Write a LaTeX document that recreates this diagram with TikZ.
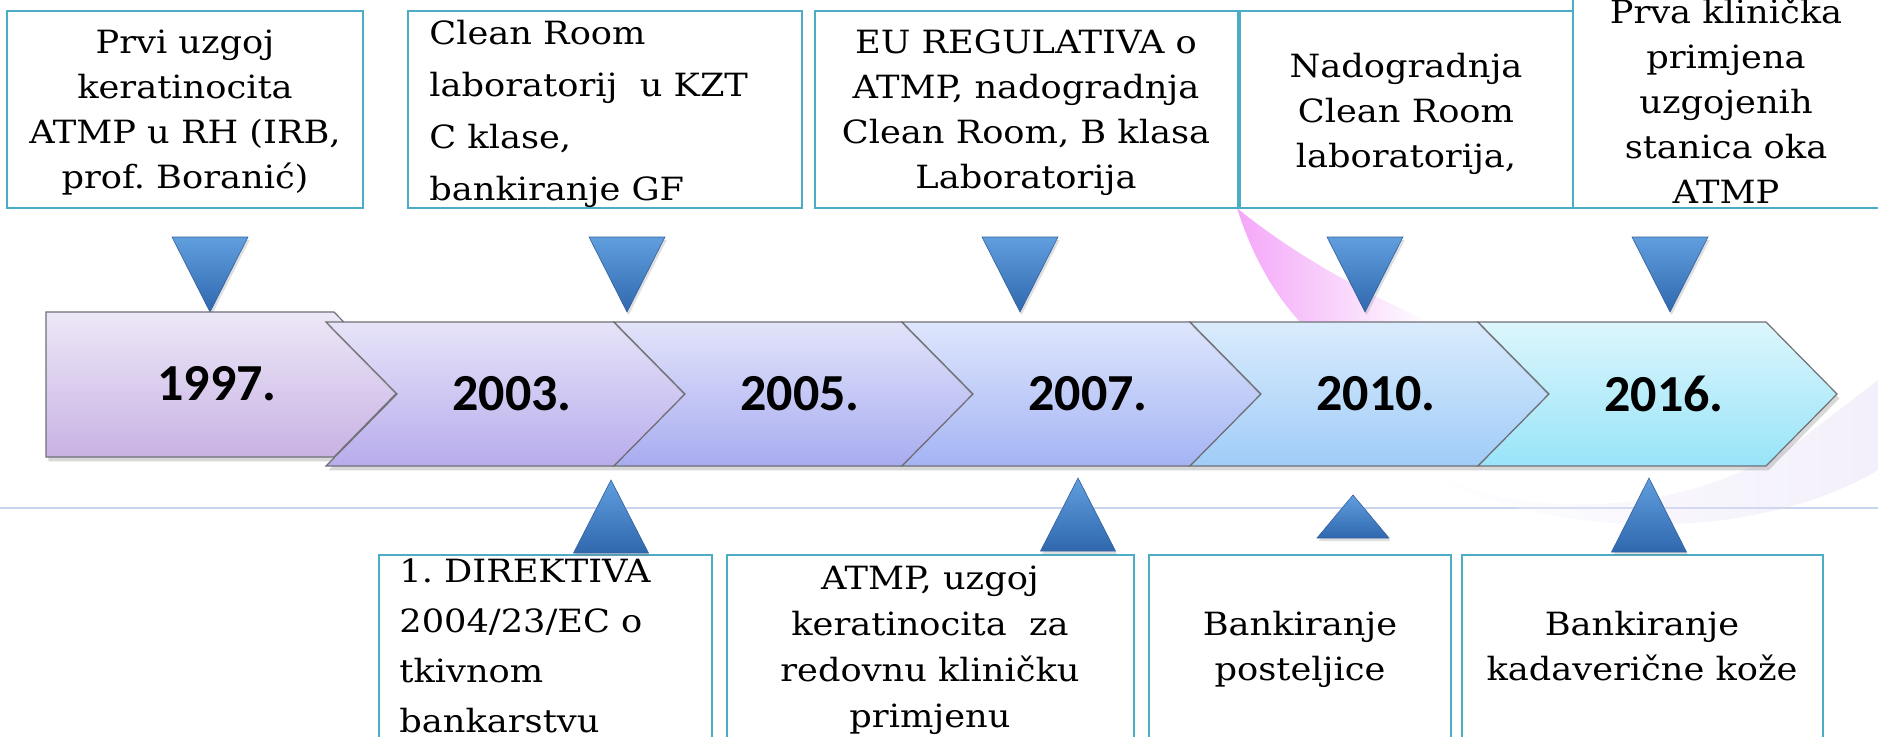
\documentclass[tikz,border=0pt]{standalone}
\usepackage{fontspec}
\setmainfont[FakeStretch=1.1]{DejaVu Serif}
\newfontfamily\yearfont{Carlito}
\usetikzlibrary{shadows}

\definecolor{boxline}{RGB}{75,172,198}
\definecolor{chevline}{RGB}{112,112,118}
\definecolor{markup}{RGB}{96,158,222}
\definecolor{markdown}{RGB}{48,104,174}
\definecolor{markedge}{RGB}{52,96,158}
\definecolor{hline}{RGB}{200,212,238}
\definecolor{swoosh}{RGB}{240,130,246}
\definecolor{haze}{RGB}{222,212,244}

% chevron gradients
\definecolor{top1997}{RGB}{237,232,247}\definecolor{bot1997}{RGB}{200,178,228}
\definecolor{top2003}{RGB}{230,228,248}\definecolor{bot2003}{RGB}{184,172,236}
\definecolor{top2005}{RGB}{226,228,250}\definecolor{bot2005}{RGB}{168,172,240}
\definecolor{top2007}{RGB}{222,230,252}\definecolor{bot2007}{RGB}{164,180,244}
\definecolor{top2010}{RGB}{218,236,252}\definecolor{bot2010}{RGB}{160,204,248}
\definecolor{top2016}{RGB}{220,246,252}\definecolor{bot2016}{RGB}{152,228,248}

\tikzset{
  infobox/.style={draw=boxline, line width=1.1pt},
  infotext/.style={font=\fontsize{16}{22.5}\selectfont, inner sep=0pt},
  yearlabel/.style={font=\yearfont\bfseries\fontsize{26}{30}\selectfont, inner sep=0pt},
  chevron/.style={draw=chevline, line width=0.6pt,
    drop shadow={shadow xshift=1.2pt, shadow yshift=-2.2pt, opacity=0.3}},
  marker/.style={draw=markedge, line width=0.3pt, top color=markup, bottom color=markdown,
    drop shadow={shadow xshift=0.8pt, shadow yshift=-1.6pt, opacity=0.25}},
}

\begin{document}
\begin{tikzpicture}[x=0.5pt, y=-0.5pt]
    \useasboundingbox (0,0) rectangle (1878,736);
    \fill[white] (0,0) rectangle (1878,736);

    % background
    \draw[hline, line width=1.2pt] (0,508) -- (1878,508);
    \shade[left color=swoosh, right color=white, opacity=0.7]
      (1237,208) .. controls (1255,265) and (1280,300) .. (1300,322)
      -- (1430,322) .. controls (1380,300) and (1300,260) .. (1237,208) -- cycle;
    \shade[left color=white, right color=haze, opacity=0.35]
      (1420,470) .. controls (1520,520) and (1680,520) .. (1800,440)
      -- (1878,380) -- (1878,470) .. controls (1760,540) and (1560,545) .. (1420,470) -- cycle;

    % boxes
    \draw[infobox] (7,11) rectangle (363,208);
    \draw[infobox] (408,11) rectangle (802,208);
    \draw[infobox] (815,11) rectangle (1238,208);
    \draw[infobox] (1240,11) rectangle (1573,208);
    \draw[infobox] (1573,-10) rectangle (1890,208);

    \draw[infobox] (379,555) rectangle (712,745);
    \draw[infobox] (727,555) rectangle (1134,745);
    \draw[infobox] (1149,555) rectangle (1451,745);
    \draw[infobox] (1462,555) rectangle (1823,745);

    \node[infotext, align=center, anchor=base] (e1997) at (185,188)
      {Prvi uzgoj\\keratinocita\\ATMP u RH (IRB,\\prof.\ Boranić)};
    \node[infotext, align=left, anchor=base west, font=\fontsize{16}{26}\selectfont] (e2003) at (429,200)
      {Clean Room\\laboratorij\ \ u KZT\\C klase,\\bankiranje GF};
    \node[infotext, align=center, anchor=base] (e2007) at (1026,188)
      {EU REGULATIVA o\\ATMP, nadogradnja\\Clean Room, B klasa\\Laboratorija};
    \node[infotext, align=center, anchor=base] (e2010) at (1406,167)
      {Nadogradnja\\Clean Room\\laboratorija,};
    \node[infotext, align=center, anchor=base] (e2016) at (1726,203)
      {Prva klinička\\primjena\\uzgojenih\\stanica oka\\ATMP};

    \node[infotext, align=left, anchor=base west, font=\fontsize{16}{25}\selectfont] (f2003) at (399,732)
      {1.\ DIREKTIVA\\2004/23/EC o\\tkivnom\\bankarstvu};
    \node[infotext, align=center, anchor=base, font=\fontsize{16}{23}\selectfont] (f2007) at (930,727)
      {ATMP, uzgoj\\keratinocita\ \ za\\redovnu kliničku\\primjenu};
    \node[infotext, align=center, anchor=base] (f2010) at (1300,680)
      {Bankiranje\\posteljice};
    \node[infotext, align=center, anchor=base] (f2016) at (1642,680)
      {Bankiranje\\kadaverične kože};

    % markers
    \foreach \cx in {210, 627, 1020, 1365, 1670}
      \path[marker] (\cx-38,237) -- (\cx+38,237) -- (\cx,312) -- cycle;
    \foreach \cx/\ty/\by/\hw in {611/480/553/37.5, 1078/478/551/37.5, 1353/495/538/36, 1649/478/552/37.5}
      \path[marker] (\cx-\hw,\by) -- (\cx+\hw,\by) -- (\cx,\ty) -- cycle;

    % timeline
    \path[chevron, top color=top1997, bottom color=bot1997]
      (46,312) -- (334,312) -- (405,384.5) -- (334,457) -- (46,457) -- cycle;
    \node[yearlabel] (y1997) at (217,384) {1997.};
    \foreach \yr/\lx in {2003/326, 2005/614, 2007/902, 2010/1190, 2016/1478} {
      \path[chevron, top color=top\yr, bottom color=bot\yr]
        (\lx,322) -- (\lx+288,322) -- (\lx+359,394) -- (\lx+288,466) -- (\lx,466) -- (\lx+71,394) -- cycle;
      \node[yearlabel] (y\yr) at (\lx+186,394) {\yr.};
    }
\end{tikzpicture}
\end{document}
